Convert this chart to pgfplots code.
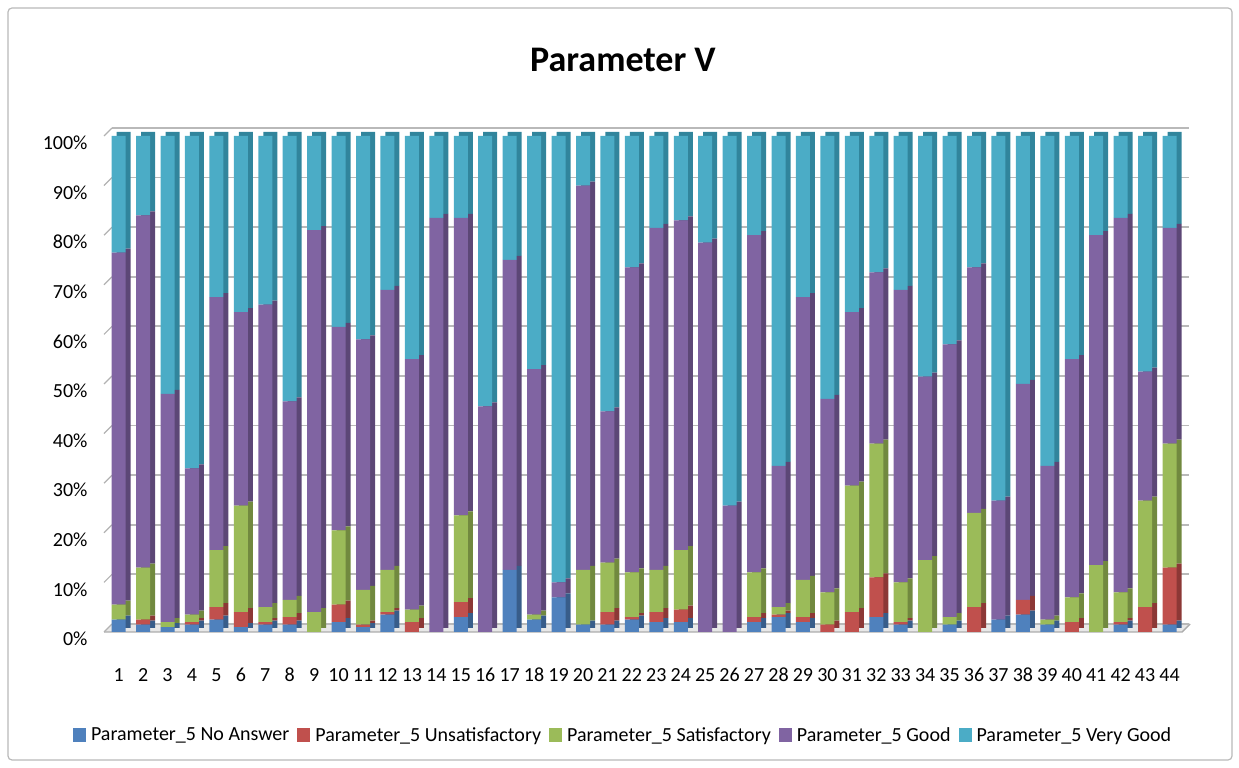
\documentclass[border=0pt]{standalone}
\usepackage{fontspec}
\setmainfont{Carlito}
\usepackage{pgfplots}
\usepackage{pgfplotstable}
\pgfplotsset{compat=1.18}

\definecolor{cNA}{HTML}{4F81BD}
\definecolor{cUN}{HTML}{C0504D}
\definecolor{cSA}{HTML}{9BBB59}
\definecolor{cGO}{HTML}{8064A2}
\definecolor{cVG}{HTML}{4BACC6}
\definecolor{dNA}{HTML}{385D8A}
\definecolor{dUN}{HTML}{8C3836}
\definecolor{dSA}{HTML}{71893F}
\definecolor{dGO}{HTML}{5C4776}
\definecolor{dVG}{HTML}{31859C}

\pgfplotstableread{
x  na   un   sa   go   vg
1  2.5  0    3    71   23.5
2  1.5  1    10.5 71   16
3  1    0    1    46   52
4  1.5  0.5  1.5  29.5 67
5  2.5  2.5  11.5 51   32.5
6  1    3    21.5 39   35.5
7  1.5  0.5  3    61   34
8  1.5  1.5  3.5  40   53.5
9  0    0    4    77   19
10 2    3.5  15   41   38.5
11 1    0.5  7    50.5 41
12 3.5  0.5  8.5  56.5 31
13 0    2    2.5  50.5 45
14 0    0    0    83.5 16.5
15 3    3    17.5 60   16.5
16 0    0    0    45.5 54.5
17 12.5 0    0    62.5 25
18 2.5  0    1    49.5 47
19 7    0    0    3    90
20 1.5  0    11   77.5 10
21 1.5  2.5  10   30.5 55.5
22 2.5  0.5  9    61.5 26.5
23 2    2    8.5  69   18.5
24 2    2.5  12   66.5 17
25 0    0    0    78.5 21.5
26 0    0    0    25.5 74.5
27 2    1    9    68   20
28 3    0.5  1.5  28.5 66.5
29 2    1    7.5  57   32.5
30 0    1.5  6.5  39   53
31 0    4    25.5 35   35.5
32 3    8    27   34.5 27.5
33 1.5  0.5  8    59   31
34 0    0    14.5 37   48.5
35 1.5  0    1.5  55   42
36 0    5    19   49.5 26.5
37 2.5  0    0    24   73.5
38 3.5  3    0    43.5 50
39 1.5  0    1    31   66.5
40 0    2    5    48   45
41 0    0    13.5 66.5 20
42 1.5  0.5  6    75.5 16.5
43 0    5    21.5 26   47.5
44 1.5  11.5 25   43.5 18.5
}\datatable

\pgfplotsset{
  base/.style={
    scale only axis, width=1077pt, height=496pt,
    xmin=0.4, xmax=44.47, ymin=0, ymax=100,
    axis line style={draw=none},
    major tick length=0pt,
    clip=false,
  },
  bars/.style={ybar stacked, bar width=14pt},
}

\begin{document}
\begin{tikzpicture}[x=1pt,y=1pt]
\useasboundingbox (0,0) rectangle (1239,768);
\draw[gray!55, line width=1.2pt, rounded corners=4pt] (8,8) rectangle (1232,760);
\node[font=\fontsize{36}{40}\selectfont\bfseries] at (623,708) {Parameter V};

% floor
\fill[gray!18] (104,136) -- (1182,136) -- (1190,144) -- (112,144) -- cycle;
\draw[gray!65, line width=1.4pt] (104,136) -- (1182,136) -- (1190,144);

% back wall grid
\begin{axis}[base, at={(112pt,144pt)}, anchor=south west,
  xtick=\empty, ytick={0,10,...,100}, yticklabels={},
  ymajorgrids, grid style={gray!55, line width=1.8pt}]
\addplot[draw=none] coordinates {(1,0)};
\end{axis}

% side faces
\begin{axis}[base, bars, at={(109pt,140pt)}, anchor=south west,
  xtick=\empty, ytick=\empty]
\addplot[fill=dNA, draw=none] table[x=x, y=na] {\datatable};
\addplot[fill=dUN, draw=none] table[x=x, y=un] {\datatable};
\addplot[fill=dSA, draw=none] table[x=x, y=sa] {\datatable};
\addplot[fill=dGO, draw=none] table[x=x, y=go] {\datatable};
\addplot[fill=dVG, draw=none] table[x=x, y=vg] {\datatable};
\end{axis}

% front faces
\begin{axis}[base, bars, at={(104pt,136pt)}, anchor=south west,
  xtick={1,...,44},
  xticklabels={1,2,3,4,5,6,7,8,9,10,11,12,13,14,15,16,17,18,19,20,21,22,23,24,25,26,27,28,29,30,31,32,33,34,35,36,37,38,39,40,41,42,43,44},
  xticklabel style={anchor=center, yshift=-43pt, font=\fontsize{20}{24}\selectfont},
  ytick={0,10,...,100},
  yticklabels={0\%,10\%,20\%,30\%,40\%,50\%,60\%,70\%,80\%,90\%,100\%},
  yticklabel style={anchor=east, xshift=-13pt, yshift=-7pt, font=\fontsize{20}{24}\selectfont},
  legend style={at={(0.482,-0.2077)}, anchor=center, draw=none, fill=none,
    font=\fontsize{20}{24}\selectfont,
    /tikz/every odd column/.append style={column sep=3pt},
    /tikz/every even column/.append style={column sep=6pt}},
  legend columns=-1,
  legend image code/.code={\fill[#1] (0pt,-7pt) rectangle (13pt,7pt);},
]
\addplot[fill=cNA, draw=none] table[x=x, y=na] {\datatable};
\addplot[fill=cUN, draw=none] table[x=x, y=un] {\datatable};
\addplot[fill=cSA, draw=none] table[x=x, y=sa] {\datatable};
\addplot[fill=cGO, draw=none] table[x=x, y=go] {\datatable};
\addplot[fill=cVG, draw=none] table[x=x, y=vg] {\datatable};
\legend{Parameter\_5 No Answer, Parameter\_5 Unsatisfactory, Parameter\_5 Satisfactory, Parameter\_5 Good, Parameter\_5 Very Good}
\pgfplotsinvokeforeach{0,10,...,100}{\draw[gray!60, line width=1.2pt] (axis cs:0.4,#1) -- ++(8pt,8pt);}
\end{axis}
\end{tikzpicture}
\end{document}
